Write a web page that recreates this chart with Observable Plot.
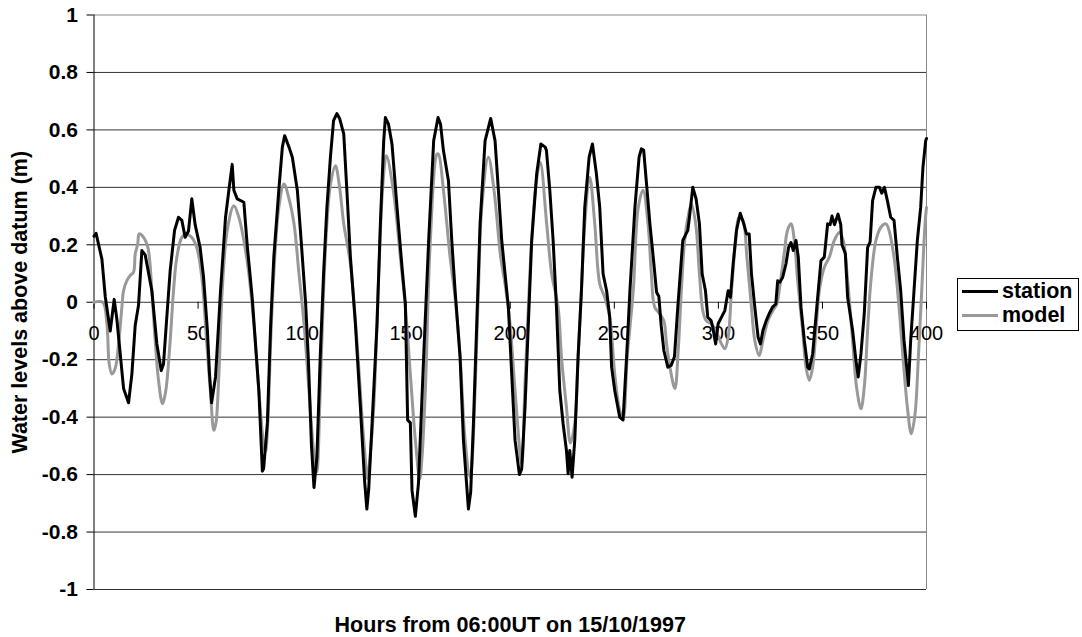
<!DOCTYPE html>
<html>
<head>
<meta charset="utf-8">
<script src="https://cdn.jsdelivr.net/npm/d3@7"></script>
<script src="https://cdn.jsdelivr.net/npm/@observablehq/plot@0.6"></script>
<style>
  html, body { margin: 0; padding: 0; background: #fff; }
  #wrap { position: relative; width: 1082px; height: 637px; font-family: "Liberation Sans", Arial, sans-serif; }
  #legend { position: absolute; left: 957px; top: 278px; width: 122px; height: 53px; border: 1px solid #000; box-sizing: border-box; background: #fff; }
  .row { display: flex; align-items: center; height: 24px; font-weight: bold; font-size: 21.5px; color: #000; white-space: nowrap; }
  .row:first-child { margin-top: 0px; }
  .sw { width: 36px; height: 3px; margin-left: 4px; margin-right: 4px; flex: none; }
</style>
</head>
<body>
<div id="wrap"><div id="legend"></div></div>
<script>
// ---- data ----
const stationHours = [0,1,3.8,5.4,7.8,9.7,11,12.6,14.2,16.6,18.2,19.8,21.4,23,24.6,27.8,30.2,32.3,33.4,35,36.6,38.7,40.6,42.2,43.8,45.4,47,48.6,51,52.6,54.5,55.5,56.5,58.4,60.8,63.2,64.8,66.4,67.2,68.8,72,73.6,76,77.6,79.2,80.9,81.5,83.3,84.9,86.4,88.8,90.5,91.6,93.7,95.3,97.7,99.3,101.7,103,104.5,105.7,107.1,108.7,110.3,111.9,113.6,115.1,116.7,118,120,121.5,123.2,125.6,128,130,131.1,132,133.6,136,137.6,139.2,140,141.5,143.2,145.6,148,149.6,150.1,150.7,152,152.8,154.4,155.9,158.4,160.8,163.2,165.3,166.5,167.9,170.3,171.9,173.5,175.9,177.5,179.9,181,182.3,183.9,185.5,187.9,190.6,192.7,194.3,195.9,197.5,199.1,200.7,202.3,204.4,205.5,207.1,208.7,210.3,212.7,214.7,216.8,217.4,219,220.6,222.2,223.8,225.4,227,227.8,228.6,229.7,231,232.6,234.2,235.8,237.9,239.5,241.4,243,244.6,246.3,247.8,248.7,250.2,252.6,254.2,255.9,257.5,259.9,261.9,263,264.1,265.5,267.1,268.7,270.3,271.4,272.5,273.8,275.7,277.3,278.9,280.5,282.9,285.3,286.1,287.7,289.3,290.9,292.2,293.8,294.9,296.5,297.3,298.7,299.9,301.5,303.1,304.7,305.8,307.1,308.7,310.5,312.2,313.5,314.8,315.9,317.5,319.1,320.2,321.4,323,324.4,326,327.6,328.5,329.6,330.9,332.5,333.7,334.9,336,337.3,338.4,339.7,341.3,342.9,343.7,345.3,347.7,349.3,350.9,352.5,353.7,354.6,355.8,357.5,358.8,359.4,361,362.1,364.5,366.1,367.2,368.5,370.1,371.7,372.9,374.1,375.7,377.4,378.5,379.8,381.2,382.8,384.4,386,387.6,389.2,390.8,391.3,392.4,394,395.6,397.2,398.3,399.6,400];
const stationLevels = [0.23,0.24,0.15,0.02,-0.1,0.01,-0.06,-0.18,-0.3,-0.35,-0.25,-0.08,-0.01,0.18,0.165,0.04,-0.145,-0.238,-0.215,-0.05,0.11,0.25,0.296,0.285,0.226,0.248,0.36,0.27,0.19,0.09,-0.1,-0.25,-0.35,-0.26,0.04,0.296,0.39,0.48,0.39,0.36,0.348,0.2,0.017,-0.145,-0.307,-0.588,-0.58,-0.42,-0.075,0.157,0.39,0.54,0.58,0.54,0.505,0.39,0.238,-0.006,-0.2,-0.5,-0.645,-0.54,-0.19,0.099,0.33,0.505,0.632,0.657,0.64,0.586,0.39,0.157,-0.075,-0.365,-0.62,-0.72,-0.65,-0.423,-0.075,0.273,0.562,0.643,0.62,0.55,0.33,0.122,-0.006,-0.19,-0.41,-0.42,-0.655,-0.745,-0.63,-0.19,0.215,0.562,0.643,0.62,0.528,0.423,0.215,0.04,-0.19,-0.48,-0.72,-0.66,-0.423,-0.075,0.273,0.562,0.64,0.562,0.39,0.215,0.099,-0.017,-0.25,-0.48,-0.6,-0.58,-0.365,-0.075,0.215,0.447,0.551,0.54,0.528,0.39,0.215,-0.017,-0.307,-0.423,-0.516,-0.597,-0.516,-0.609,-0.48,-0.19,0.04,0.33,0.505,0.551,0.447,0.33,0.099,0.04,-0.052,-0.226,-0.307,-0.4,-0.41,-0.19,0.04,0.33,0.505,0.534,0.53,0.41,0.273,0.157,0.035,0.02,-0.08,-0.168,-0.226,-0.22,-0.19,-0.017,0.215,0.25,0.296,0.4,0.36,0.273,0.099,0.04,-0.052,-0.064,-0.087,-0.145,-0.075,-0.052,-0.029,0.04,0.017,0.134,0.25,0.31,0.273,0.238,0.238,0.099,-0.017,-0.122,-0.145,-0.098,-0.064,-0.04,-0.017,-0.006,0.075,0.07,0.087,0.134,0.19,0.208,0.18,0.215,0.157,-0.017,-0.133,-0.226,-0.232,-0.18,0.017,0.145,0.157,0.273,0.27,0.3,0.27,0.307,0.27,0.2,0.17,0.017,-0.098,-0.203,-0.26,-0.18,-0.04,0.19,0.21,0.354,0.4,0.4,0.38,0.4,0.354,0.296,0.285,0.157,0.04,-0.133,-0.25,-0.29,-0.133,0.04,0.215,0.33,0.47,0.562,0.57];

const modelHours = [0,4.2,6.2,7.3,8.6,10.2,11.8,13.4,14.2,15.8,17.4,19,19.8,21,21.7,23.8,25.9,27.8,29.4,31,32.9,34.5,36.6,38.2,39.8,42.2,44.3,46.9,49.4,51.8,54.2,55.9,57.6,58.6,60,61.6,64,67.2,69.6,72,74.4,76.8,79.2,81.6,82.4,83.5,84.9,86.4,88.8,91.3,93.7,96.1,98.5,100.9,103.3,105.3,107,108.7,110.3,111.9,113.6,116,118,120,123.2,126.3,129.6,131.5,132.5,134.4,136.8,138.8,140.5,143.8,147.2,149.6,152,154.4,156.5,157.5,159.2,161.6,164.8,165.5,167.9,171.1,173.5,175.9,178.3,180.7,181.7,183.1,184.7,186.3,189.5,192.2,195.4,197.5,199.9,202.3,205.5,207,208.5,210.3,212.5,214.4,217.5,219.9,223,224.6,227,228.9,231,232.6,234.2,235.8,238.2,240.6,243,245.4,247.8,250.2,252.6,254.2,256.2,259.1,261.5,263.8,266.2,267.8,269.4,271.8,273.8,275.1,276.7,279.1,280.7,282.2,283.8,285.4,287,289.1,290.9,292.5,294.1,296.5,298.7,301.5,303.1,304.7,306.3,308.3,309.9,311.8,313.7,315.9,317.5,319.6,321.4,323.8,326.2,328.1,329.2,331.6,333.2,334.9,336.5,338.1,340.5,342.1,343.7,345.3,346.9,348.5,350.9,353.3,355.7,358.1,360,362.1,364.5,366.4,368.5,370.1,371.7,373.3,375.7,378.1,380.5,382,384.4,386.8,388.7,390.8,392.7,394.5,396.1,397.7,399.3,400];
const modelLevels = [0,0,-0.075,-0.214,-0.25,-0.23,-0.145,-0.017,0.04,0.075,0.093,0.105,0.168,0.203,0.238,0.226,0.19,0.04,-0.133,-0.272,-0.353,-0.307,-0.133,0.04,0.157,0.226,0.238,0.226,0.19,0.087,-0.145,-0.307,-0.446,-0.42,-0.25,0.04,0.25,0.336,0.296,0.215,0.099,-0.075,-0.307,-0.5,-0.52,-0.423,-0.133,0.099,0.33,0.412,0.36,0.273,0.099,-0.075,-0.307,-0.5,-0.59,-0.307,0.04,0.273,0.41,0.475,0.4,0.273,0.134,-0.133,-0.48,-0.615,-0.55,-0.365,0.099,0.41,0.51,0.39,0.157,-0.017,-0.25,-0.48,-0.615,-0.55,-0.307,0.215,0.516,0.516,0.39,0.157,0.017,-0.19,-0.48,-0.61,-0.55,-0.307,0.04,0.33,0.505,0.39,0.157,0.064,-0.075,-0.307,-0.562,-0.3,-0.05,0.215,0.42,0.487,0.273,0.099,-0.017,-0.19,-0.365,-0.49,-0.423,-0.19,0.04,0.273,0.435,0.273,0.064,0.017,-0.052,-0.25,-0.377,-0.405,-0.19,0.04,0.33,0.39,0.273,0.099,-0.017,-0.04,-0.064,-0.145,-0.226,-0.3,-0.168,0.04,0.215,0.296,0.342,0.273,0.099,-0.029,-0.064,-0.075,-0.098,-0.145,-0.162,-0.122,0.04,0.215,0.296,0.285,0.157,-0.017,-0.133,-0.185,-0.133,-0.064,-0.029,-0.006,0.04,0.168,0.25,0.273,0.215,0.075,-0.098,-0.226,-0.272,-0.226,-0.098,0.04,0.122,0.157,0.215,0.243,0.215,0.075,-0.133,-0.296,-0.371,-0.296,-0.098,0.075,0.215,0.261,0.273,0.25,0.157,-0.017,-0.19,-0.365,-0.458,-0.388,-0.19,0.04,0.273,0.33];

const xTicks = [0,50,100,150,200,250,300,350,400];
const yTicks = [-1,-0.8,-0.6,-0.4,-0.2,0,0.2,0.4,0.6,0.8,1];
const seriesNames = ["station","model"];
const seriesColors = ["#000000","#999999"];
const xTitle = "Hours from 06:00UT on 15/10/1997";
const yTitle = "Water levels above datum (m)";

// ---- build tables ----
const station = stationHours.map((h, i) => ({h, v: stationLevels[i]}));
const model = modelHours.map((h, i) => ({h, v: modelLevels[i]}));
const fmtY = d => String(Math.round(d * 10) / 10);

const chart = Plot.plot({
  width: 1082,
  height: 637,
  marginLeft: 93.5,
  marginRight: 156,
  marginTop: 14.5,
  marginBottom: 48,
  style: {fontFamily: "'Liberation Sans', Arial, sans-serif", fontSize: "20px", background: "transparent", color: "#000"},
  x: {domain: [0, 400], axis: null},
  y: {domain: [-1, 1], axis: null},
  marks: [
    Plot.ruleY(yTicks.filter(d => d !== 1), {stroke: "#333", strokeWidth: 1}),
    Plot.ruleY([1], {stroke: "#888", strokeWidth: 1}),
    Plot.ruleX([400], {stroke: "#888", strokeWidth: 1}),
    Plot.ruleX([0], {stroke: "#000", strokeWidth: 1}),
    Plot.axisY({ticks: yTicks, tickSize: 7, tickPadding: 9, tickFormat: fmtY, fontWeight: "bold", fontSize: 21, label: null, stroke: "#000"}),
    Plot.ruleX(xTicks, {x: d => d, y1: 0, y2: -0.024, stroke: "#000"}),
    Plot.text(xTicks, {x: d => d, y: 0, dy: 31, text: d => String(d), fontSize: 20, fill: "#000"}),
    Plot.line(model, {x: "h", y: "v", stroke: seriesColors[1], strokeWidth: 3, curve: "catmull-rom"}),
    Plot.line(station, {x: "h", y: "v", stroke: seriesColors[0], strokeWidth: 3, curve: "linear", strokeLinejoin: "round"}),
    Plot.text([yTitle], {frameAnchor: "left", dx: -74, rotate: -90, textAnchor: "middle", lineAnchor: "middle", fontWeight: "bold", fontSize: 21.5, fill: "#000"}),
    Plot.text([xTitle], {frameAnchor: "bottom", dy: 36, textAnchor: "middle", lineAnchor: "middle", fontWeight: "bold", fontSize: 21.5, fill: "#000"})
  ]
});
chart.style.position = "absolute";
chart.style.left = "0";
chart.style.top = "0";
const wrap = document.getElementById("wrap");
wrap.insertBefore(chart, wrap.firstChild);

const legend = document.getElementById("legend");
seriesNames.forEach((name, i) => {
  const row = document.createElement("div");
  row.className = "row";
  const sw = document.createElement("div");
  sw.className = "sw";
  sw.style.background = seriesColors[i];
  const label = document.createElement("span");
  label.textContent = name;
  row.appendChild(sw);
  row.appendChild(label);
  legend.appendChild(row);
});
</script>
</body>
</html>
